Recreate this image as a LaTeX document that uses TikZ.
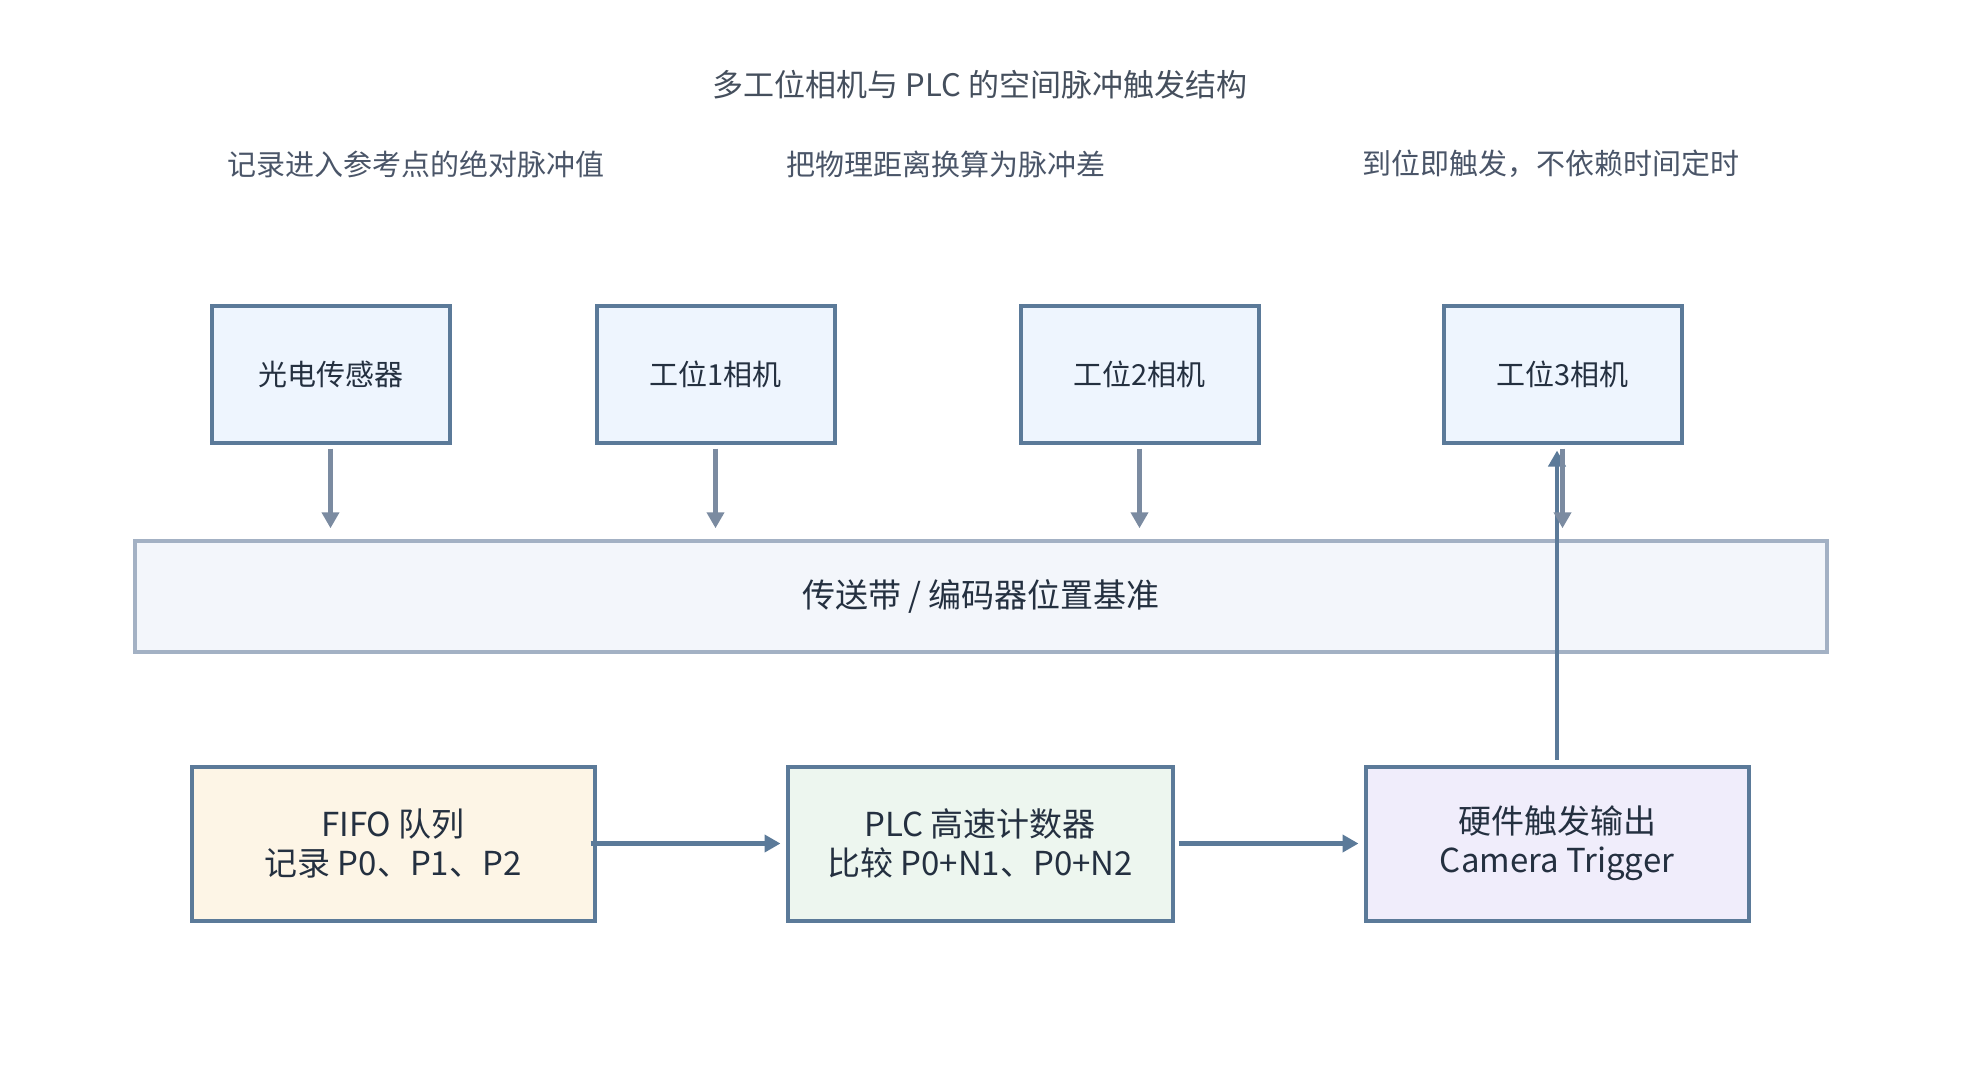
\documentclass[tikz,border=0pt]{standalone}
\usepackage{fontspec}
\setmainfont{Noto Sans CJK SC}
\usetikzlibrary{arrows.meta,calc}
\definecolor{bd}{HTML}{5B7A99}
\definecolor{topfill}{HTML}{EEF5FE}
\definecolor{beltbd}{HTML}{A3B1C4}
\definecolor{beltfill}{HTML}{F3F6FB}
\definecolor{fifofill}{HTML}{FDF5E6}
\definecolor{plcfill}{HTML}{EDF6EF}
\definecolor{hwfill}{HTML}{F0EDFB}
\definecolor{txt}{HTML}{243040}
\definecolor{subtxt}{HTML}{4A5568}
\definecolor{downarr}{HTML}{7B8BA1}
\tikzset{
  topbox/.style={draw=bd, line width=4pt, fill=topfill, minimum width=238pt, minimum height=137pt, inner sep=0pt, text=txt, font=\fontsize{29}{35}\selectfont},
  botbox/.style={draw=bd, line width=4pt, minimum height=154pt, inner sep=0pt, text=txt, align=center, font=\fontsize{33}{39}\selectfont},
  beltbox/.style={draw=beltbd, line width=3.5pt, fill=beltfill, minimum width=1692pt, minimum height=111pt, inner sep=0pt, text=txt, font=\fontsize{33}{39}\selectfont},
  titletext/.style={text=txt!85, font=\fontsize{31}{37}\selectfont},
  subtext/.style={text=subtxt, font=\fontsize{29}{35}\selectfont},
  downlink/.style={draw=downarr, line width=4.5pt, -{Triangle[length=16pt,width=17pt]}},
  mainlink/.style={draw=bd, line width=4.5pt, -{Triangle[length=16pt,width=17pt]}}
}
\begin{document}
\begin{tikzpicture}[x=1pt,y=-1pt]
\fill[white] (0,0) rectangle (1961,1080);
\useasboundingbox (0,0) rectangle (1961,1080);

\node[titletext] (title) at (980,85) {多工位相机与 PLC 的空间脉冲触发结构};
\node[subtext] (sub1) at (416,164) {记录进入参考点的绝对脉冲值};
\node[subtext] (sub2) at (946,164) {把物理距离换算为脉冲差};
\node[subtext] (sub3) at (1551,164) {到位即触发，不依赖时间定时};

\node[topbox] (sensor) at (330.5,374) {光电传感器};
\node[topbox] (cam1) at (715.5,374) {工位1相机};
\node[topbox] (cam2) at (1139.5,374) {工位2相机};
\node[topbox] (cam3) at (1562.5,374) {工位3相机};

\node[beltbox] (belt) at (981,596.5) {传送带 / 编码器位置基准};

\node[botbox, fill=fifofill, minimum width=403pt] (fifo) at (393,843.5) {FIFO 队列\\记录 P0、P1、P2};
\node[botbox, fill=plcfill, minimum width=385pt] (plc) at (980,843.5) {PLC 高速计数器\\比较 P0+N1、P0+N2};
\node[botbox, fill=hwfill, minimum width=383pt] (hw) at (1557,843.5) {硬件触发输出\\Camera Trigger};

\draw[downlink] ($(sensor.south)+(0,4)$) -- ($(sensor.south |- belt.north)+(0,-11)$);
\draw[downlink] ($(cam1.south)+(0,4)$) -- ($(cam1.south |- belt.north)+(0,-11)$);
\draw[downlink] ($(cam2.south)+(0,4)$) -- ($(cam2.south |- belt.north)+(0,-11)$);

\draw[mainlink] ($(hw.north)+(0,-5)$) -- ($(hw.north |- cam3.south)+(0,6)$);
\draw[downlink] ($(cam3.south)+(0,4)$) -- ($(cam3.south |- belt.north)+(0,-11)$);

\draw[mainlink] ($(fifo.east)+(-6,0)$) -- ($(plc.west)+(-5,0)$);
\draw[mainlink] ($(plc.east)+(4,0)$) -- ($(hw.west)+(-5,0)$);
\end{tikzpicture}
\end{document}
